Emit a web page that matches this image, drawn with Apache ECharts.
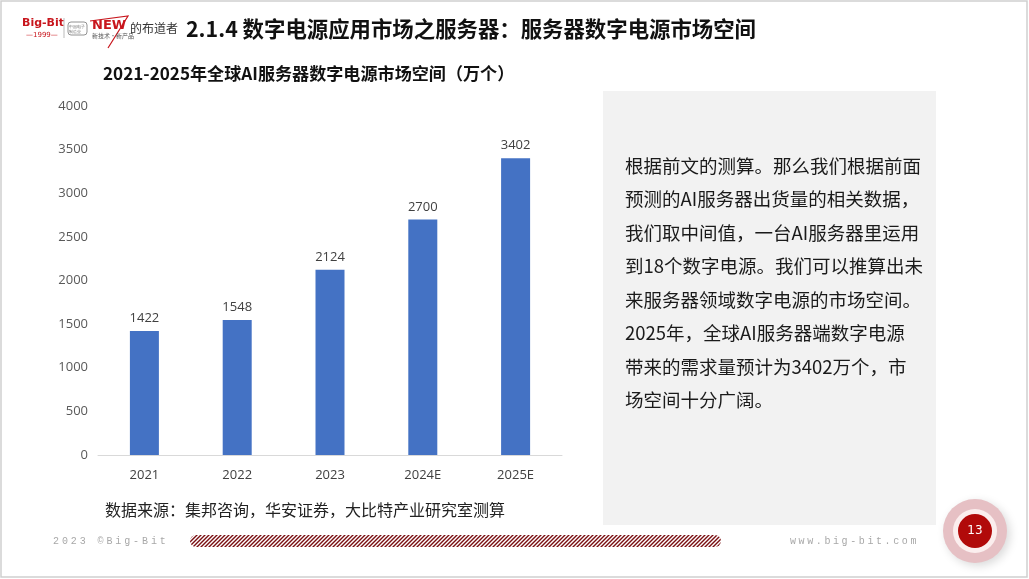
<!DOCTYPE html>
<html>
<head>
<meta charset="utf-8">
<script src="https://cdn.jsdelivr.net/npm/echarts@6/dist/echarts.min.js"></script>
<style>
  html, body { margin: 0; padding: 0; background: #fff; }
  #main { width: 1029px; height: 579px; }
</style>
</head>
<body>
<div id="main"></div>
<script>
const years = ['2021', '2022', '2023', '2024E', '2025E'];
const demand = [1422, 1548, 2124, 2700, 3402];
const yTicks = [0, 500, 1000, 1500, 2000, 2500, 3000, 3500, 4000];

const CJK = '"Noto Sans CJK SC", "Microsoft YaHei", sans-serif';

const noteLines = [
  '根据前文的测算。那么我们根据前面',
  '预测的AI服务器出货量的相关数据，',
  '我们取中间值，一台AI服务器里运用',
  '到18个数字电源。我们可以推算出未',
  '来服务器领域数字电源的市场空间。',
  '2025年，全球AI服务器端数字电源',
  '带来的需求量预计为3402万个，市',
  '场空间十分广阔。'
];

// diagonal hatch for the footer strip
function hatch() {
  const c = document.createElement('canvas');
  c.width = 4; c.height = 4;
  const g = c.getContext('2d');
  g.strokeStyle = '#7a0f12';
  g.lineWidth = 1.4;
  g.beginPath();
  g.moveTo(0, 4); g.lineTo(4, 0);
  g.moveTo(-1, 1); g.lineTo(1, -1);
  g.moveTo(3, 5); g.lineTo(5, 3);
  g.stroke();
  return c;
}

// widely tracked footer text, one glyph per step
function spaced(str, x0, y, step) {
  return {
    type: 'group',
    children: str.split('').map((ch, i) => ({
      type: 'text', x: x0 + i * step, y: y,
      style: { text: ch, fill: '#a8a8a8', font: '10px "Liberation Mono", monospace', verticalAlign: 'middle' }
    }))
  };
}

const chart = echarts.init(document.getElementById('main'));

const graphics = [
  // slide frame
  { type: 'rect', shape: { x: 1, y: 1, width: 1026, height: 576 }, style: { fill: 'none', stroke: '#cfcfcf', lineWidth: 1.5 }, z: 0 },
  // logo
  { type: 'text', left: 22, top: 18, style: { text: 'Big-Bit', fill: '#c8161d', font: 'bold 11px "DejaVu Sans", sans-serif' } },
  { type: 'text', left: 26, top: 32, style: { text: '—1999—', fill: '#c8161d', font: '7px "DejaVu Sans", sans-serif' } },
  { type: 'line', shape: { x1: 64, y1: 18, x2: 64, y2: 38 }, style: { stroke: '#bbbbbb', lineWidth: 1 } },
  { type: 'rect', shape: { x: 68, y: 22, width: 19, height: 13, r: 3 }, style: { fill: 'none', stroke: '#777', lineWidth: 0.8 } },
  { type: 'text', left: 69, top: 24, style: { text: '中国电子\n制造业', fill: '#777', font: '4px sans-serif', lineHeight: 5 } },
  { type: 'polyline', shape: { points: [[90, 21], [128, 16], [108, 48]] }, style: { stroke: '#c8161d', lineWidth: 1.2, fill: 'none' } },
  { type: 'text', left: 92, top: 19, style: { text: 'NEW', fill: '#c8161d', font: 'bold 13px "DejaVu Sans", sans-serif' } },
  { type: 'text', left: 92, top: 33, style: { text: '新技术·新产品', fill: '#555', font: '6px ' + CJK } },
  { type: 'text', left: 130, top: 22, style: { text: '的布道者', fill: '#333', font: '12px ' + CJK } },
  // heading
  { type: 'text', left: 186, top: 18, style: { text: '2.1.4 数字电源应用市场之服务器：服务器数字电源市场空间', fill: '#111', font: 'bold 21.4px ' + CJK } },
  // chart title
  { type: 'text', left: 103, top: 65, style: { text: '2021-2025年全球AI服务器数字电源市场空间（万个）', fill: '#111', font: 'bold 17.1px ' + CJK } },
  // source
  { type: 'text', left: 105, top: 502, style: { text: '数据来源：集邦咨询，华安证券，大比特产业研究室测算', fill: '#222', font: '16px ' + CJK } },
  // note box
  { type: 'rect', shape: { x: 603, y: 91, width: 333, height: 434 }, style: { fill: '#f2f2f2' }, z: 0 },
  { type: 'text', left: 625, top: 149, style: { text: noteLines.join('\n'), fill: '#1a1a1a', font: '18.5px ' + CJK, lineHeight: 33.5 } },
  // footer
  spaced('2023 ©Big-Bit', 53, 541, 8.9),
  { type: 'rect', shape: { x: 190, y: 535, width: 531, height: 12, r: 6 }, style: { fill: { image: hatch(), repeat: 'repeat' } } },
  spaced('www.big-bit.com', 790, 541, 8.6),
  // page number badge
  { type: 'circle', shape: { cx: 975, cy: 531, r: 32 }, style: { fill: '#e6c0c4', shadowBlur: 10, shadowColor: 'rgba(0,0,0,0.15)', shadowOffsetX: 3, shadowOffsetY: 3 } },
  { type: 'circle', shape: { cx: 975, cy: 531, r: 22 }, style: { fill: '#fbeeee' } },
  { type: 'circle', shape: { cx: 975, cy: 531, r: 17 }, style: { fill: '#b10a0a' } },
  { type: 'text', x: 975, y: 531, style: { text: '13', fill: '#fff', font: '12px "DejaVu Sans", sans-serif', align: 'center', verticalAlign: 'middle' } }
];

chart.setOption({
  animation: false,
  backgroundColor: '#ffffff',
  graphic: graphics,
  grid: { left: 98, right: 467, top: 106, bottom: 124, containLabel: false },
  xAxis: {
    type: 'category',
    data: years,
    axisLine: { lineStyle: { color: '#d9d9d9', width: 1 } },
    axisTick: { show: false },
    axisLabel: { color: '#404040', fontSize: 13, margin: 14, fontFamily: '"Open Sans", sans-serif' }
  },
  yAxis: {
    type: 'value',
    min: yTicks[0],
    max: yTicks[yTicks.length - 1],
    interval: yTicks[1] - yTicks[0],
    axisLine: { show: false },
    axisTick: { show: false },
    splitLine: { show: false },
    axisLabel: { color: '#595959', fontSize: 13, margin: 10, fontFamily: '"Open Sans", sans-serif', formatter: v => String(v) }
  },
  series: [{
    type: 'bar',
    data: demand,
    barWidth: 29,
    itemStyle: { color: '#4472c4' },
    label: { show: true, position: 'top', distance: 6, color: '#404040', fontSize: 13, fontFamily: '"Open Sans", sans-serif' }
  }]
});
</script>
</body>
</html>
